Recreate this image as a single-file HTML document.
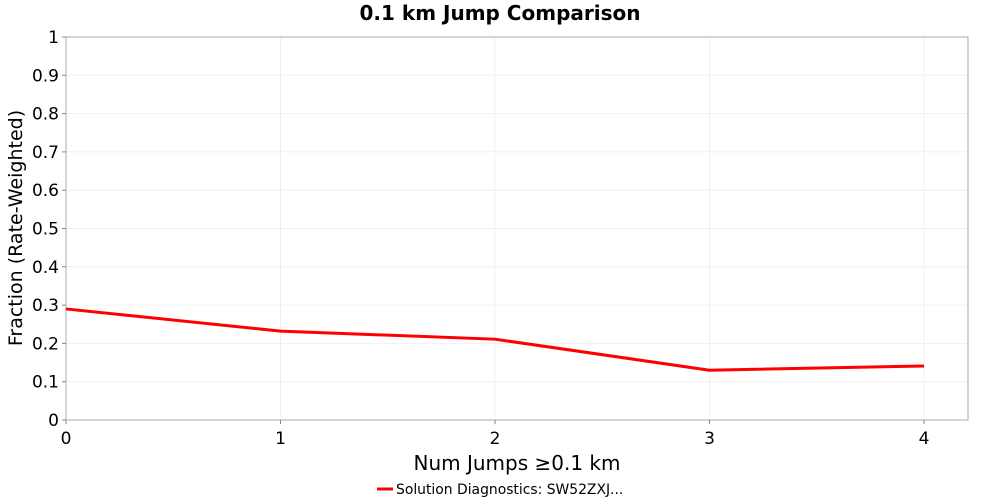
<!DOCTYPE html>
<html><head><meta charset="utf-8"><style>
body{margin:0;background:#fff;font-family:"DejaVu Sans","Liberation Sans",sans-serif;}
</style></head><body>
<svg id="chart" width="1000" height="500" xmlns="http://www.w3.org/2000/svg">
<rect width="1000" height="500" fill="#fff"/>
<text x="500" y="20" text-anchor="middle" font-size="20" font-weight="bold" font-family="DejaVu Sans, sans-serif">0.1 km Jump Comparison</text>
<g id="grid"></g>
<rect x="66" y="37" width="902" height="383" fill="none" stroke="#aaa"/>
<g id="ticks"></g>
<g id="series"></g>
<text x="517" y="470" text-anchor="middle" font-size="20" font-family="DejaVu Sans, sans-serif">Num Jumps ≥0.1 km</text>
<text transform="translate(22,228) rotate(-90)" text-anchor="middle" font-size="19" font-family="DejaVu Sans, sans-serif">Fraction (Rate-Weighted)</text>
<g>
<line x1="377" y1="489" x2="393" y2="489" stroke="#f00" stroke-width="3"/>
<text x="396" y="494" font-size="13.9" font-family="DejaVu Sans, sans-serif">Solution Diagnostics: SW52ZXJ...</text>
</g>
</svg>
<script>
const xCats=[0,1,2,3,4];
const yVals=[0.29,0.232,0.211,0.13,0.141];
const xTicks=[0,1,2,3,4];
const yTicks=[0,0.1,0.2,0.3,0.4,0.5,0.6,0.7,0.8,0.9,1];
const X0=66,X1=968,Y0=420,Y1=37,XMAX=4.205;
const sx=v=>X0+(X1-X0)*v/XMAX;
const sy=v=>Y0-(Y0-Y1)*v;
const NS="http://www.w3.org/2000/svg";
const grid=document.getElementById('grid'),ticks=document.getElementById('ticks'),series=document.getElementById('series');
function mk(t,a,p){const e=document.createElementNS(NS,t);for(const k in a)e.setAttribute(k,a[k]);p.appendChild(e);return e;}
yTicks.forEach(v=>{
 const g=mk('line',{x1:X0,x2:X1,y1:sy(v),y2:sy(v),stroke:'#f0f0f0'},grid);
 
 
 const t=mk('text',{x:X0-7,y:sy(v)+6,'text-anchor':'end','font-size':'17'},ticks);
 t.textContent=String(v);
 
 
 mk('line',{x1:X0-4,x2:X0,y1:sy(v),y2:sy(v),stroke:'#888'},ticks);
});
xTicks.forEach(v=>{
 const g=mk('line',{x1:sx(v),x2:sx(v),y1:Y1,y2:Y0,stroke:'#f0f0f0'},grid);
 
 
 const t=mk('text',{x:sx(v),y:Y0+24,'text-anchor':'middle','font-size':'17'},ticks);
 t.textContent=String(v);
 
 
 mk('line',{x1:sx(v),x2:sx(v),y1:Y0,y2:Y0+4,stroke:'#888'},ticks);
});
const pl=mk('polyline',{points:xCats.map((x,i)=>sx(x)+','+sy(yVals[i])).join(' '),fill:'none',stroke:'#f00','stroke-width':3},series);


</script>
</body></html>
